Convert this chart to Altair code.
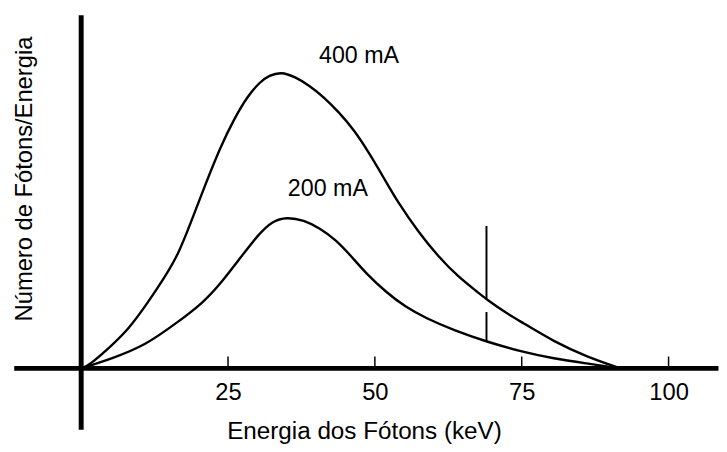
import altair as alt
import pandas as pd

# ---- data ----
energy_400 = [0, 1.35, 5.2, 8.1, 11.4, 14.3, 16.5, 18.7, 21.0, 23.7, 26.1, 28.3, 30.5, 32.0,
              34.0, 36.4, 38.9, 41.4, 43.9, 46.5, 49.0, 51.5, 54.0, 57.4, 60.8, 64.1, 67.5,
              69.0, 72.1, 74.9, 80.5, 86.0, 91.8]
count_400 = [0, 1.0, 7.7, 13.3, 22.3, 31.0, 38.3, 49.3, 61.3, 74.7, 84.3, 91.7, 96.7, 98.7,
             100.0, 98.3, 95.3, 91.3, 86.3, 80.3, 72.7, 64.3, 55.7, 46.0, 37.7, 31.0, 25.7,
             23.3, 19.0, 15.7, 9.0, 4.0, 0]

energy_200 = [0, 5.2, 10.9, 16.5, 20.7, 23.9, 27.1, 30.1, 32.5, 35.0, 37.9, 40.6, 43.4,
              45.9, 48.5, 51.9, 55.2, 58.6, 63.6, 69.0, 74.9, 80.5, 86.0, 91.8]
count_200 = [0, 3.3, 7.7, 15.7, 22.0, 29.0, 37.3, 45.0, 49.7, 51.0, 50.0, 47.3, 43.3,
             38.0, 32.0, 25.7, 20.7, 17.0, 12.7, 9.0, 5.7, 3.3, 1.7, 0]

tick_values = [25, 50, 75, 100]

# characteristic line (two segments, broken where it crosses the 400 mA curve)
line_energy = [69.0, 69.0]
line_top = [48.0, 19.0]
line_bottom = [23.3, 9.0]

# annotation labels
label_text = ["400 mA", "200 mA"]
label_energy = [47.3, 42.0]
label_count = [103.1, 58.1]

# axis line extents (data units)
x_axis_range = [-11.4, 108.5]
y_axis_range = [-20.7, 119.0]

FONT = "Liberation Sans"

curves = pd.DataFrame({
    "energia": energy_400 + energy_200,
    "numero": count_400 + count_200,
    "serie": ["400 mA"] * len(energy_400) + ["200 mA"] * len(energy_200),
})

xs = alt.Scale(domain=[0, 100], nice=False, zero=False)
ys = alt.Scale(domain=[0, 100], nice=False, zero=False)

x_axis = alt.Axis(
    values=tick_values, domain=False, ticks=False, tickSize=0, grid=False,
    labelFontSize=24, labelFont=FONT, labelColor="black", labelPadding=12,
    labelFlush=False,
    title="Energia dos Fótons (keV)", titleFont=FONT, titleFontSize=24.5,
    titleFontWeight="normal", titleColor="black",
    titleX=286, titleY=71, titleBaseline="alphabetic", titleAlign="center",
)
y_axis = alt.Axis(
    domain=False, ticks=False, tickSize=0, labels=False, grid=False,
    title="Número de Fótons/Energia", titleFont=FONT, titleFontSize=24,
    titleFontWeight="normal", titleColor="black", titleAngle=270,
    titleX=-50, titleY=108, titleBaseline="alphabetic", titleAlign="center",
)

curve_layer = alt.Chart(curves).mark_line(
    color="black", strokeWidth=2.4, interpolate="basis"
).encode(
    x=alt.X("energia:Q", scale=xs, axis=x_axis),
    y=alt.Y("numero:Q", scale=ys, axis=y_axis),
    detail="serie:N",
)

xaxis_df = pd.DataFrame({"x1": [x_axis_range[0]], "x2": [x_axis_range[1]], "y": [0]})
xaxis_layer = alt.Chart(xaxis_df).mark_rule(color="black", strokeWidth=5).encode(
    x=alt.X("x1:Q", scale=xs, axis=x_axis), x2="x2:Q",
    y=alt.Y("y:Q", scale=ys, axis=y_axis),
)

yaxis_df = pd.DataFrame({"y1": [y_axis_range[0]], "y2": [y_axis_range[1]], "x": [0]})
yaxis_layer = alt.Chart(yaxis_df).mark_rule(color="black", strokeWidth=5).encode(
    x=alt.X("x:Q", scale=xs, axis=x_axis),
    y=alt.Y("y1:Q", scale=ys, axis=y_axis), y2="y2:Q",
)

ticks_df = pd.DataFrame({"t": tick_values, "t0": [0] * len(tick_values), "t1": [4] * len(tick_values)})
tick_layer = alt.Chart(ticks_df).mark_rule(color="black", strokeWidth=1.5).encode(
    x=alt.X("t:Q", scale=xs, axis=x_axis),
    y=alt.Y("t0:Q", scale=ys, axis=y_axis), y2="t1:Q",
)

char_df = pd.DataFrame({"e": line_energy, "top": line_top, "bot": line_bottom})
char_layer = alt.Chart(char_df).mark_rule(color="black", strokeWidth=2).encode(
    x=alt.X("e:Q", scale=xs, axis=x_axis),
    y=alt.Y("top:Q", scale=ys, axis=y_axis), y2="bot:Q",
)

labels_df = pd.DataFrame({"txt": label_text, "e": label_energy, "n": label_count})
label_layer = alt.Chart(labels_df).mark_text(
    font=FONT, fontSize=23.5, color="black", align="center", baseline="alphabetic"
).encode(
    x=alt.X("e:Q", scale=xs, axis=x_axis),
    y=alt.Y("n:Q", scale=ys, axis=y_axis),
    text="txt:N",
)

chart = alt.layer(
    xaxis_layer, yaxis_layer, tick_layer, char_layer, curve_layer, label_layer
).properties(
    width=594, height=300,
    autosize=alt.AutoSizeParams(type="none"),
    padding={"left": 74, "top": 62, "right": 51, "bottom": 74},
    background="white",
).configure_view(stroke=None).configure_axis(grid=False)

chart.save("out.html", embed_options={"renderer": "svg", "actions": False})
